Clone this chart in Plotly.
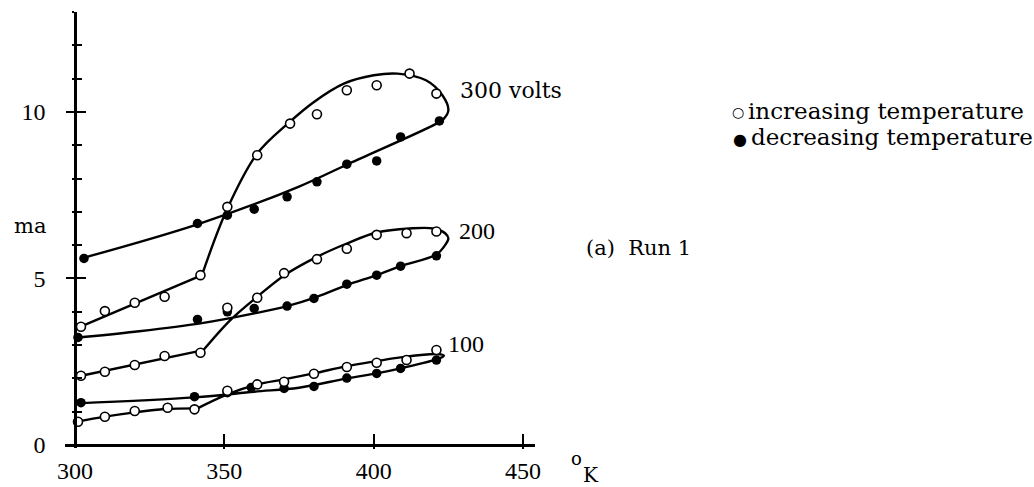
import plotly.graph_objects as go

# ---------------- data ----------------
# measured points: temperature (K) and current (ma)
T_up_300 = [302, 310, 320, 330, 342, 351, 361, 372, 381, 391, 401, 412, 421]
I_up_300 = [3.55, 4.02, 4.27, 4.45, 5.1, 7.15, 8.7, 9.65, 9.93, 10.65, 10.8, 11.15, 10.55]
T_dn_300 = [303, 341, 351, 360, 371, 381, 391, 401, 409, 422]
I_dn_300 = [5.6, 6.65, 6.9, 7.08, 7.45, 7.9, 8.43, 8.53, 9.25, 9.73]

T_up_200 = [302, 310, 320, 330, 342, 351, 361, 370, 381, 391, 401, 411, 421]
I_up_200 = [2.08, 2.2, 2.4, 2.67, 2.77, 4.12, 4.42, 5.16, 5.58, 5.89, 6.31, 6.36, 6.41]
T_dn_200 = [301, 341, 351, 360, 371, 380, 391, 401, 409, 421]
I_dn_200 = [3.23, 3.77, 4.0, 4.1, 4.17, 4.4, 4.83, 5.1, 5.37, 5.68]

T_up_100 = [301, 310, 320, 331, 340, 351, 361, 370, 380, 391, 401, 411, 421]
I_up_100 = [0.7, 0.85, 1.02, 1.12, 1.07, 1.63, 1.82, 1.9, 2.14, 2.34, 2.47, 2.55, 2.85]
T_dn_100 = [302, 340, 351, 359, 370, 380, 391, 401, 409, 421]
I_dn_100 = [1.27, 1.45, 1.57, 1.73, 1.7, 1.76, 2.01, 2.15, 2.3, 2.55]

# hand-drawn fit curves (control points)
fitA_300_T = [300.5, 342.5]
fitA_300_I = [3.5, 5.1]
fitB_300_T = [342.5, 351, 361, 371.5, 380, 390, 400, 408, 417.5, 423, 425, 423.5, 421, 392, 375, 341.5, 302]
fitB_300_I = [5.1, 7.1, 8.75, 9.67, 10.3, 10.85, 11.1, 11.15, 10.95, 10.5, 10.05, 9.8, 9.65, 8.46, 7.76, 6.64, 5.6]

fitA_200_T = [300.5, 343]
fitA_200_I = [2.05, 2.85]
fitB_200_T = [343, 352, 361, 370.5, 381, 391, 401, 412, 420, 424, 425, 423.5, 421, 409, 401, 391, 381, 371, 360, 342, 320, 300.5]
fitB_200_I = [2.85, 3.75, 4.45, 5.12, 5.65, 6.05, 6.38, 6.5, 6.5, 6.35, 6.2, 5.95, 5.72, 5.37, 5.1, 4.8, 4.45, 4.17, 3.95, 3.65, 3.4, 3.22]

fitA_100_T = [300.5, 310, 320, 330, 341]
fitA_100_I = [0.7, 0.85, 0.98, 1.08, 1.1]
fitB_100_T = [341, 351, 361, 370, 380, 391, 401, 409, 421, 423.5, 422, 409, 401, 391, 375, 360, 340, 300.5]
fitB_100_I = [1.1, 1.52, 1.82, 1.97, 2.15, 2.37, 2.52, 2.63, 2.73, 2.68, 2.6, 2.3, 2.15, 2.0, 1.72, 1.6, 1.43, 1.25]

x_ticks = [300, 350, 400, 450]
x_ticktext = ["300", "350", "400", "450"]
y_ticks = [0, 5, 10]
y_ticktext = ["0", "5", "10"]
y_minor = [1, 2, 3, 4, 6, 7, 8, 9, 11, 12, 13]

# ---------------- figure ----------------
W, H = 1034, 487
L, T, PW, PH = 65, 12, 470, 436
XR = [296.65, 454.0]
YR = [-0.09, 13.0]

def px(x):
    return (x - L) / PW

def py(y):
    return (T + PH - y) / PH

fig = go.Figure()

fits = [
    (fitA_300_T, fitA_300_I, "linear"), (fitB_300_T, fitB_300_I, "spline"),
    (fitA_200_T, fitA_200_I, "linear"), (fitB_200_T, fitB_200_I, "spline"),
    (fitA_100_T, fitA_100_I, "spline"), (fitB_100_T, fitB_100_I, "spline"),
]
for fx, fy, shp in fits:
    fig.add_trace(go.Scatter(x=fx, y=fy, mode="lines", line=dict(color="black", width=2.4, shape=shp, smoothing=1.0),
                             showlegend=False, hoverinfo="skip", cliponaxis=False))

for tx, iy in [(T_dn_300, I_dn_300), (T_dn_200, I_dn_200), (T_dn_100, I_dn_100)]:
    fig.add_trace(go.Scatter(x=tx, y=iy, mode="markers", name="decreasing temperature",
                             marker=dict(symbol="circle", size=9.5, color="black", line=dict(width=0)),
                             showlegend=False, cliponaxis=False))
for tx, iy in [(T_up_300, I_up_300), (T_up_200, I_up_200), (T_up_100, I_up_100)]:
    fig.add_trace(go.Scatter(x=tx, y=iy, mode="markers", name="increasing temperature",
                             marker=dict(symbol="circle", size=9, color="white", line=dict(width=1.6, color="black")),
                             showlegend=False, cliponaxis=False))

# helper traces for overlay axes (tick marks crossing the axis lines)
fig.add_trace(go.Scatter(x=[None], y=[None], xaxis="x2", yaxis="y2", showlegend=False, hoverinfo="skip"))
fig.add_trace(go.Scatter(x=[None], y=[None], xaxis="x3", yaxis="y2", showlegend=False, hoverinfo="skip"))

tick_font = dict(family="Liberation Serif", size=24, color="black")
text_font = dict(family="DejaVu Serif", size=21, color="black")
legend_font = dict(family="DejaVu Serif", size=23, color="black")

x_pos = (T + PH - 445) / PH
y_pos = (75 - L) / PW

common = dict(showgrid=False, zeroline=False, automargin=False, fixedrange=True)
fig.update_layout(
    width=W, height=H,
    margin=dict(l=L, r=W - L - PW, t=T, b=H - T - PH, autoexpand=False),
    paper_bgcolor="white", plot_bgcolor="white",
    xaxis=dict(range=XR, anchor="free", position=x_pos, tickmode="array", tickvals=x_ticks, ticktext=x_ticktext,
               ticks="", showline=True, linecolor="black", linewidth=2.6,
               tickfont=tick_font, ticklabelstandoff=3, **common),
    yaxis=dict(range=YR, anchor="free", position=y_pos, tickmode="array", tickvals=y_ticks, ticktext=y_ticktext,
               ticks="outside", ticklen=8, tickwidth=2.2, tickcolor="black",
               minor=dict(tickvals=y_minor, ticks="outside", ticklen=2, tickwidth=2.2, tickcolor="black", showgrid=False),
               showline=True, linecolor="black", linewidth=2.6,
               tickfont=tick_font, ticklabelstandoff=16, **common),
    xaxis2=dict(range=XR, overlaying="x", anchor="free", position=x_pos, tickmode="array", tickvals=x_ticks[1:],
                ticks="inside", ticklen=11, tickwidth=2.2, tickcolor="black", showticklabels=False,
                showline=False, **common),
    xaxis3=dict(range=XR, overlaying="x", anchor="free", position=x_pos, tickmode="array", tickvals=x_ticks[1:],
                ticks="outside", ticklen=3, tickwidth=2.2, tickcolor="black", showticklabels=False,
                showline=False, **common),
    yaxis2=dict(range=YR, overlaying="y", anchor="free", position=y_pos, tickmode="array", tickvals=y_ticks,
                ticks="inside", ticklen=10, tickwidth=2.2, tickcolor="black", showticklabels=False,
                minor=dict(tickvals=y_minor, ticks="inside", ticklen=6, tickwidth=2.2, tickcolor="black", showgrid=False),
                showline=False, **common),
    showlegend=False,
)

ann = [
    ("300 volts", 458, 90, "left", dict(family="DejaVu Serif", size=22, color="black")),
    ("200", 457, 231, "left", tick_font),
    ("100", 446, 344, "left", tick_font),
    ("ma", 12, 226, "left", text_font),
    ("(a)  Run 1", 584, 248, "left", text_font),
    ("○", 738, 112, "center", dict(family="DejaVu Sans", size=14, color="black")),
    ("increasing temperature", 746, 111, "left", legend_font),
    ("●", 740, 139, "center", dict(family="DejaVu Sans", size=16, color="black")),
    ("decreasing temperature", 749, 137, "left", legend_font),
    ("o", 569, 459, "left", dict(family="DejaVu Serif", size=18, color="black")),
    ("K", 581, 475, "left", dict(family="DejaVu Serif", size=20, color="black")),
]
for txt, x0, y0, xa, f in ann:
    fig.add_annotation(text=txt, x=px(x0), y=py(y0), xref="paper", yref="paper",
                       xanchor=xa, yanchor="middle", showarrow=False, font=f)

fig.write_html("out.html", config={"displayModeBar": False},
               post_script="document.body.style.margin='0px';document.body.style.overflow='hidden';")
